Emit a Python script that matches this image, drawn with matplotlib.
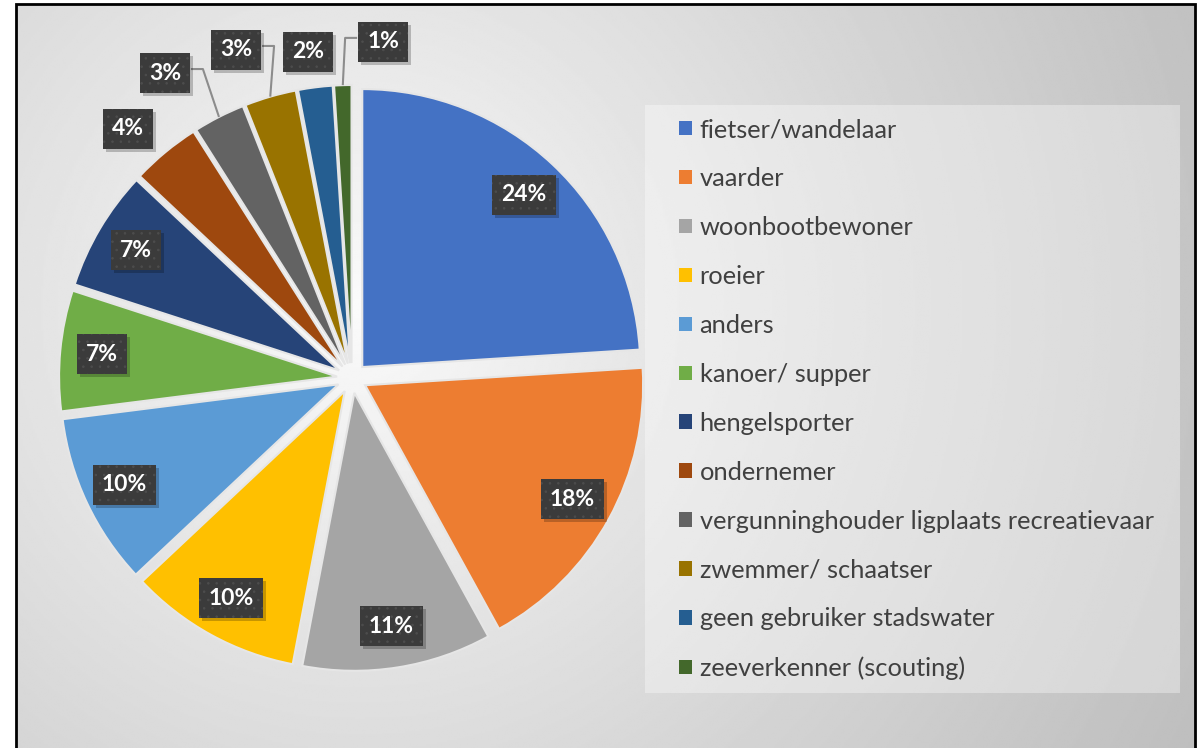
import numpy as np
import matplotlib
matplotlib.use("Agg")
import matplotlib.pyplot as plt
from matplotlib.patches import Rectangle

# Data
categories = [
    "fietser/wandelaar", "vaarder", "woonbootbewoner", "roeier", "anders",
    "kanoer/ supper", "hengelsporter", "ondernemer",
    "vergunninghouder ligplaats recreatievaar", "zwemmer/ schaatser",
    "geen gebruiker stadswater", "zeeverkenner (scouting)",
]
shares = [24, 18, 11, 10, 10, 7, 7, 4, 3, 3, 2, 1]
pct_labels = ["24%", "18%", "11%", "10%", "10%", "7%", "7%", "4%", "3%", "3%", "2%", "1%"]
colors = ["#4472C4", "#ED7D31", "#A5A5A5", "#FFC000", "#5B9BD5", "#70AD47",
          "#264478", "#9E480E", "#636363", "#997300", "#255E91", "#43682B"]

# Layout (pixel space, y up)
W, H = 1203, 748
cx, cy, R = 352, 370, 278
gap = 15  # explode offset in pixels
# outside label positions for the small slices, in radius units from the pie centre
outside = {7: (-0.806, 0.896), 8: (-0.673, 1.097), 9: (-0.417, 1.18),
           10: (-0.158, 1.173), 11: (0.112, 1.209)}
leaders = {8: "right", 9: "right", 11: "left"}

plt.rcParams['font.family'] = ['Lato', 'DejaVu Sans']
plt.rcParams['hatch.linewidth'] = 0.6

fig = plt.figure(figsize=(W / 100, H / 100), dpi=100)
fig.patch.set_facecolor("white")
ax = fig.add_axes([0, 0, 1, 1])

# radial grey background inside the frame
x0, x1, y0, y1 = 16, 1195, -10, 744
xx, yy = np.meshgrid(np.linspace(x0, x1, 600), np.linspace(y1, y0, 400))
d = np.hypot(xx - 360, yy - 440)
v = 0.985 - 0.23 * (d / 900) ** 0.9
ax.imshow(v, cmap="gray", vmin=0, vmax=1, extent=[x0, x1, y0, y1],
          aspect="auto", zorder=0, interpolation="bilinear")
ax.add_patch(Rectangle((x0, y0), x1 - x0, y1 - y0, fill=False, ec="black",
                       lw=2, zorder=7))

wedges, _ = ax.pie(shares, colors=colors, startangle=90, counterclock=False,
                   explode=[gap] * len(shares), radius=R, center=(cx, cy),
                   wedgeprops=dict(ec="#e6e6e6", lw=1.5), frame=True)
ax.set_xlim(0, W)
ax.set_ylim(0, H)
ax.set_aspect("auto")
ax.axis("off")

texts = []
for i, w in enumerate(wedges):
    mid = np.deg2rad((w.theta1 + w.theta2) / 2)
    wx, wy = w.center
    if i in outside:
        ox, oy = outside[i]
        lx, ly = cx + ox * R, cy + oy * R
    else:
        lx, ly = wx + 0.85 * R * np.cos(mid), wy + 0.85 * R * np.sin(mid)
    t = ax.text(lx, ly, pct_labels[i], ha="center", va="center", color="white",
                fontsize=16.5, fontweight="bold", zorder=6)
    texts.append((t, lx, ly))
    if i in leaders:
        ex, ey = wx + R * np.cos(mid), wy + R * np.sin(mid)
        side = -1 if leaders[i] == "left" else 1
        bx = lx + side * 26
        ax.plot([bx, bx + side * 12, ex], [ly + 4, ly + 4, ey],
                color="#8c8c8c", lw=1.5, zorder=3, solid_capstyle="butt")

# dark dotted label boxes sized from the rendered text
fig.canvas.draw()
renderer = fig.canvas.get_renderer()
for t, lx, ly in texts:
    bb = t.get_window_extent(renderer)
    bw, bh = bb.width + 18, 40
    ax.add_patch(Rectangle((lx - bw / 2 + 3, ly - bh / 2 - 3), bw, bh,
                           fc="black", alpha=0.22, ec="none", zorder=4))
    ax.add_patch(Rectangle((lx - bw / 2, ly - bh / 2), bw, bh, fc="#3b3b3b",
                           ec="#4d4d4d", lw=0, hatch="..", zorder=5))

# legend panel
ax.add_patch(Rectangle((645, H - 693), 535, 588, fc="white", alpha=0.35,
                       ec="none", zorder=1))
leg = ax.legend(wedges, categories, loc="upper left",
                bbox_to_anchor=(669, H - 108), bbox_transform=ax.transData,
                frameon=False, fontsize=18.3, handlelength=0.5,
                handleheight=0.5, handletextpad=0.3, labelspacing=1.02,
                borderaxespad=0)
for txt in leg.get_texts():
    txt.set_color("#404040")
for h in leg.legend_handles:
    h.set_edgecolor("none")

fig.savefig("out.png", dpi=100)
